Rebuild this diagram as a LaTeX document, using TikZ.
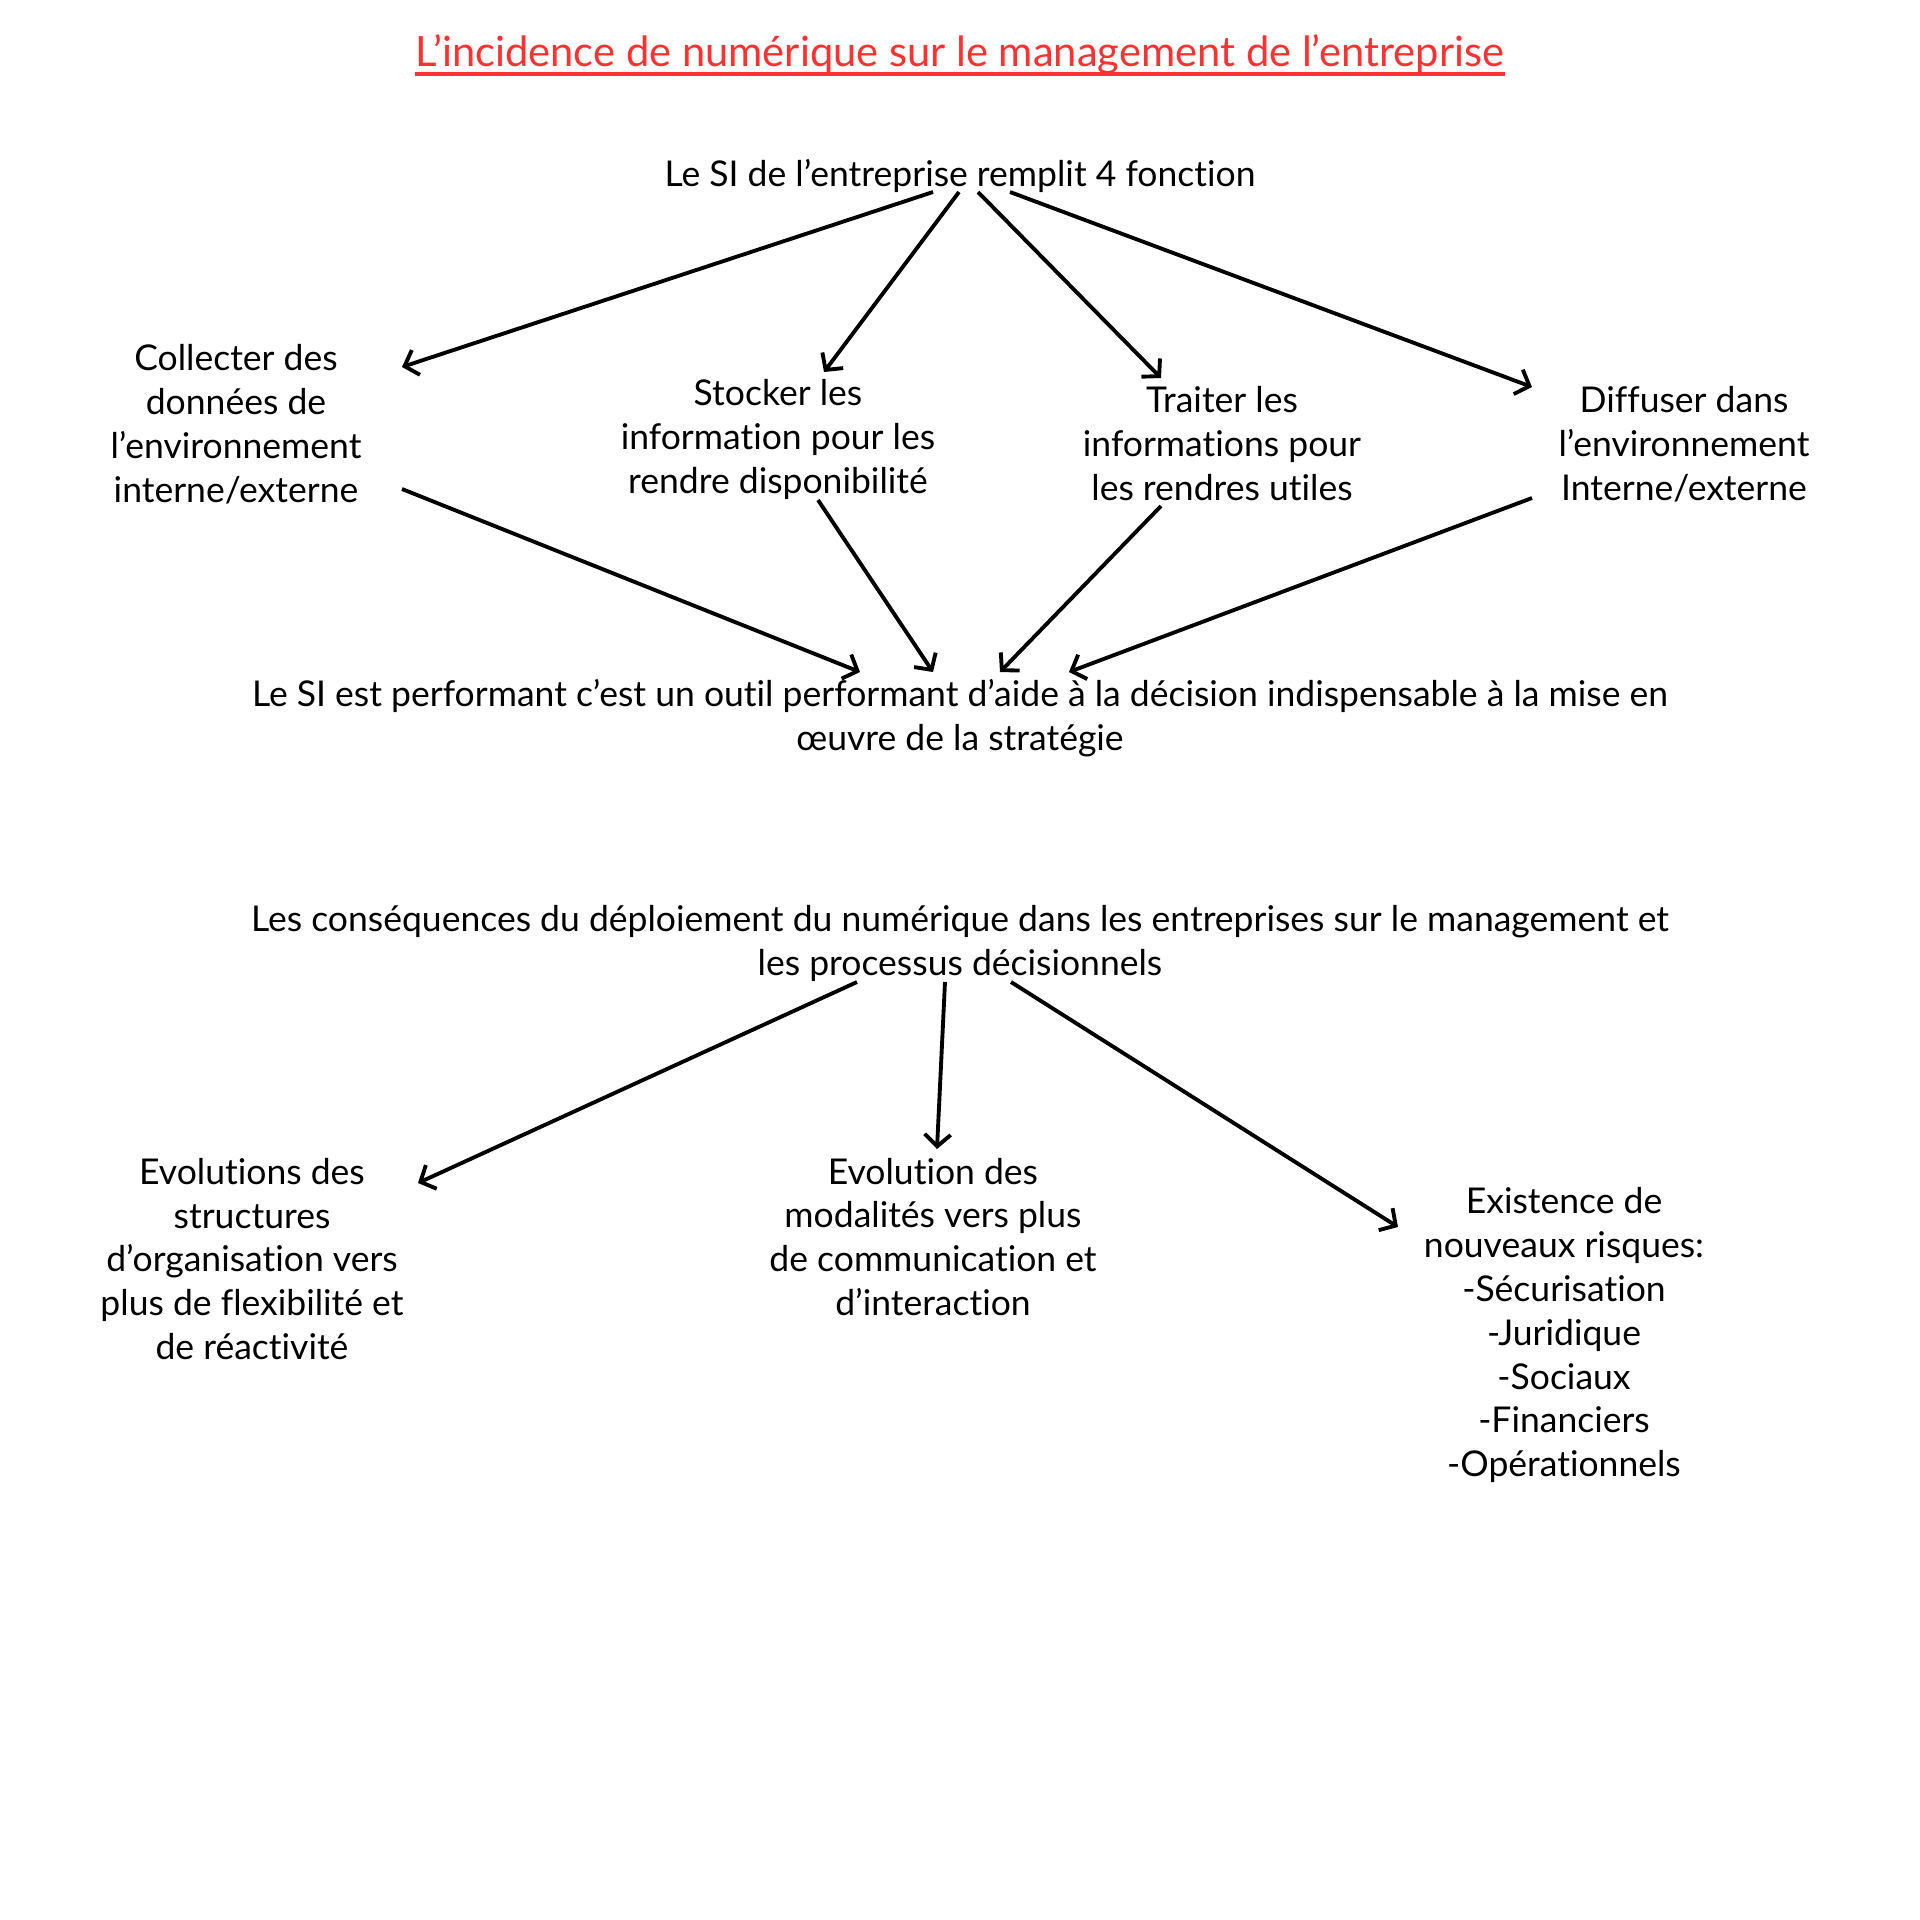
\documentclass[tikz,border=0pt]{standalone}
\usepackage{fontspec}
\setmainfont{Lato}[Ligatures=NoCommon]
\usetikzlibrary{arrows.meta}
\definecolor{titlered}{HTML}{FF3131}
\begin{document}
\begin{tikzpicture}[x=0.01cm,y=-0.01cm,
  txt/.style={inner sep=0pt,align=center,font=\fontsize{10.1}{12.5}\selectfont},
  arr/.style={-{Straight Barb[length=1.2mm,width=2.6mm]},line width=1.1pt}]
\useasboundingbox[fill=white] (0,0) rectangle (1920,1920);
\node[inner sep=0pt,text=titlered,font=\fontsize{11.85}{14}\selectfont] (title) at (960,54) {L’incidence de numérique sur le management de l’entreprise};
\draw[titlered,line width=1.1pt] ([yshift=-2.3pt]title.base west) -- ([yshift=-2.3pt]title.base east);
\node[txt] (top) at (960,176) {Le SI de l’entreprise remplit 4 fonction};
\node[txt] (collect) at (236,424) {Collecter des\\données de\\l’environnement\\interne/externe};
\node[txt] (stock) at (778,439) {Stocker les\\information pour les\\rendre disponibilité};
\node[txt] (trait) at (1222,444) {Traiter les\\informations pour\\les rendres utiles};
\node[txt] (diff) at (1684,444) {Diffuser dans\\l’environnement\\Interne/externe};
\node[txt] (perf) at (960,718) {Le SI est performant c’est un outil performant d’aide à la décision indispensable à la mise en\\œuvre de la stratégie};
\node[txt] (cons) at (960,943) {Les conséquences du déploiement du numérique dans les entreprises sur le management et\\les processus décisionnels};
\node[txt] (evo1) at (252,1259) {Evolutions des\\structures\\d’organisation vers\\plus de flexibilité et\\de réactivité};
\node[txt] (evo2) at (933,1237) {Evolution des\\modalités vers plus\\de communication et\\d’interaction};
\node[txt] (risk) at (1564,1335) {Existence de\\nouveaux risques:\\-Sécurisation\\-Juridique\\-Sociaux\\-Financiers\\-Opérationnels};
% connector end points
\coordinate (t1) at (933,192); \coordinate (c1) at (402,367);
\coordinate (t2) at (959,192); \coordinate (s1) at (824,372);
\coordinate (t3) at (978,192); \coordinate (r1) at (1161,378);
\coordinate (t4) at (1010,192); \coordinate (d1) at (1532,387);
\coordinate (c2) at (402,489); \coordinate (p1) at (860,672);
\coordinate (s2) at (818,500); \coordinate (p2) at (933,672);
\coordinate (r2) at (1161,506); \coordinate (p3) at (1000,672);
\coordinate (d2) at (1532,498); \coordinate (p4) at (1069,672);
\coordinate (k1) at (857,982); \coordinate (e1) at (418,1183);
\coordinate (k2) at (945,982); \coordinate (e2) at (937,1149);
\coordinate (k3) at (1011,982); \coordinate (e3) at (1398,1227);
\draw[arr] (t1) -- (c1);
\draw[arr] (t2) -- (s1);
\draw[arr] (t3) -- (r1);
\draw[arr] (t4) -- (d1);
\draw[arr] (c2) -- (p1);
\draw[arr] (s2) -- (p2);
\draw[arr] (r2) -- (p3);
\draw[arr] (d2) -- (p4);
\draw[arr] (k1) -- (e1);
\draw[arr] (k2) -- (e2);
\draw[arr] (k3) -- (e3);
\end{tikzpicture}
\end{document}
